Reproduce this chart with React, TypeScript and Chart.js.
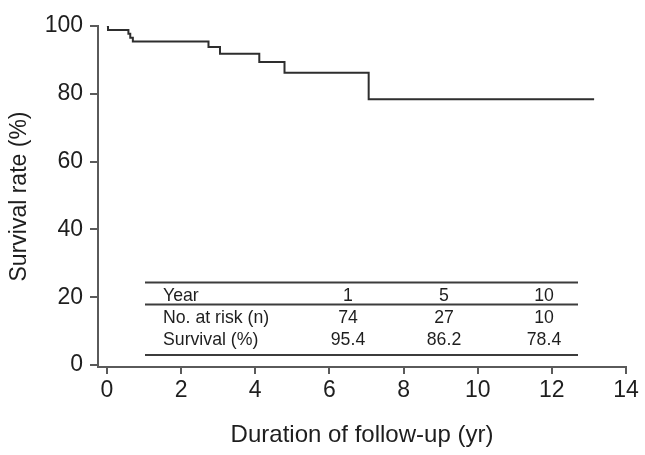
import React, { useEffect, useRef } from "react";
import { Chart, registerables } from "chart.js";

Chart.register(...registerables);

// Kaplan–Meier estimate: event times (years) and survival (%) after each event
const eventTimes = [0, 0.03, 0.58, 0.63, 0.7, 2.74, 3.05, 4.11, 4.79, 7.06, 13.14];
const survivalRate = [100, 98.85, 97.7, 96.55, 95.4, 93.8, 91.8, 89.4, 86.2, 78.4, 78.4];

// Axis ticks
const xTicks = [0, 2, 4, 6, 8, 10, 12, 14];
const yTicks = [0, 20, 40, 60, 80, 100];

// Summary table under the curve
const tableYears = ["1", "5", "10"];
const tableAtRisk = ["74", "27", "10"];
const tableSurvival = ["95.4", "86.2", "78.4"];
const tableRowLabels = ["Year", "No. at risk (n)", "Survival (%)"];

const FONT = "'Liberation Sans', Arial, Helvetica, sans-serif";
const TEXT = "#1e1e1e";
const AXIS = "#5a5a5a";

const summaryTable = {
  id: "summaryTable",
  afterDraw(chart: any) {
    const { ctx, chartArea } = chart;
    const L = chartArea.left;
    const T = chartArea.top;
    ctx.save();
    ctx.strokeStyle = "#3c3c3c";
    ctx.lineWidth = 2;
    const x0 = L + 47;
    const x1 = L + 480;
    [256.5, 278.5, 329].forEach((dy) => {
      ctx.beginPath();
      ctx.moveTo(x0, T + dy);
      ctx.lineTo(x1, T + dy);
      ctx.stroke();
    });
    ctx.fillStyle = TEXT;
    ctx.font = `17.7px ${FONT}`;
    ctx.textBaseline = "middle";
    const rowY = [270, 292, 314].map((d) => T + d);
    const colX = [250, 346, 446].map((d) => L + d);
    const rows = [tableYears, tableAtRisk, tableSurvival];
    rows.forEach((row, r) => {
      ctx.textAlign = "left";
      ctx.fillText(tableRowLabels[r], L + 65, rowY[r]);
      ctx.textAlign = "center";
      row.forEach((v, c) => ctx.fillText(v, colX[c], rowY[r]));
    });
    ctx.restore();
  },
};

export default function App() {
  const canvasRef = useRef<HTMLCanvasElement | null>(null);

  useEffect(() => {
    document.body.style.margin = "0";
    const canvas = canvasRef.current;
    if (!canvas) return;
    const chart = new Chart(canvas, {
      type: "line",
      data: {
        datasets: [
          {
            data: eventTimes.map((t, i) => ({ x: t, y: survivalRate[i] })),
            stepped: "before",
            borderColor: "#2e2e2e",
            borderWidth: 2,
            pointRadius: 0,
            fill: false,
          },
        ],
      },
      options: {
        animation: false,
        responsive: false,
        maintainAspectRatio: false,
        layout: { padding: { left: 0, right: 19, top: 26, bottom: 0 } },
        plugins: { legend: { display: false }, tooltip: { enabled: false } },
        scales: {
          x: {
            type: "linear",
            min: -0.24,
            max: 14,
            afterBuildTicks: (s: any) => {
              s.ticks = xTicks.map((v) => ({ value: v }));
            },
            afterFit: (s: any) => {
              s.height = 88;
            },
            border: { display: true, color: AXIS, width: 2 },
            grid: { drawOnChartArea: false, drawTicks: true, tickLength: 7, color: AXIS, lineWidth: 2 },
            ticks: { color: TEXT, font: { family: FONT, size: 23 }, padding: 3, maxRotation: 0 },
            title: {
              display: true,
              text: "Duration of follow-up (yr)",
              color: TEXT,
              font: { family: FONT, size: 24 },
              padding: { top: 0, bottom: 5 },
            },
          },
          y: {
            type: "linear",
            min: -0.6,
            max: 100,
            afterBuildTicks: (s: any) => {
              s.ticks = yTicks.map((v) => ({ value: v }));
            },
            afterFit: (s: any) => {
              s.width = 98;
            },
            border: { display: true, color: AXIS, width: 2 },
            grid: { drawOnChartArea: false, drawTicks: true, tickLength: 8, color: AXIS, lineWidth: 2 },
            ticks: { color: TEXT, font: { family: FONT, size: 23 }, padding: 7 },
            title: {
              display: true,
              text: "Survival rate (%)",
              color: TEXT,
              font: { family: FONT, size: 23 },
              padding: { top: 6, bottom: 0 },
            },
          },
        },
      },
      plugins: [summaryTable],
    });
    return () => chart.destroy();
  }, []);

  return <canvas ref={canvasRef} width={645} height={455} style={{ display: "block" }} />;
}
